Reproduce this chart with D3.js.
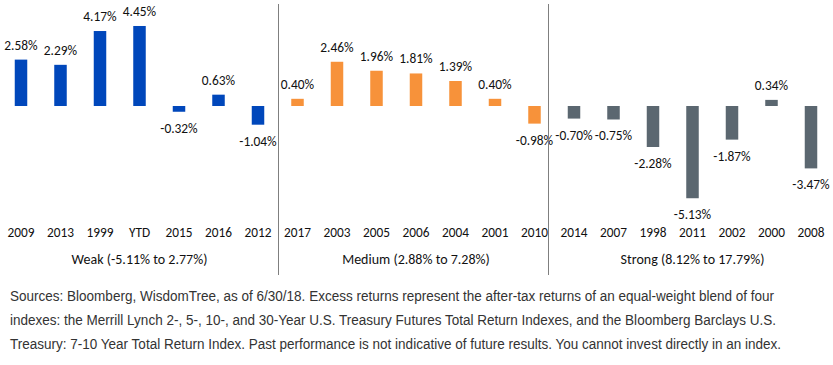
<!DOCTYPE html>
<html lang="en">
<head>
  <meta charset="UTF-8" />
  <title>Excess returns by growth regime</title>
  <script src="https://d3js.org/d3.v7.min.js"></script>
  <style>
    body {
      margin: 0;
      background: #fff;
    }
    svg {
      display: block;
    }
    .val, .yr, .grp {
      font-family: Carlito, Calibri, Lato, sans-serif;
      fill: #111;
    }
    .note {
      font-family: 'Liberation Sans Narrow', 'Arial Narrow', 'Liberation Sans', Arial, sans-serif;
      font-size: 14px;
      fill: #333;
    }
  </style>
</head>
<body>
  <svg width="833" height="365"></svg>
  <script>
    // data
    const groups = ["Weak (-5.11% to 2.77%)", "Medium (2.88% to 7.28%)", "Strong (8.12% to 17.79%)"];
    const weakYears = ["2009", "2013", "1999", "YTD", "2015", "2016", "2012"];
    const weakValues = [2.58, 2.29, 4.17, 4.45, -0.32, 0.63, -1.04];
    const mediumYears = ["2017", "2003", "2005", "2006", "2004", "2001", "2010"];
    const mediumValues = [0.40, 2.46, 1.96, 1.81, 1.39, 0.40, -0.98];
    const strongYears = ["2014", "2007", "1998", "2011", "2002", "2000", "2008"];
    const strongValues = [-0.70, -0.75, -2.28, -5.13, -1.87, 0.34, -3.47];
    const groupColors = ["#0047bb", "#f7923a", "#5b6770"];

    const notes = [
      "Sources: Bloomberg, WisdomTree, as of 6/30/18. Excess returns represent the after-tax returns of an equal-weight blend of four",
      "indexes: the Merrill Lynch 2-, 5-, 10-, and 30-Year U.S. Treasury Futures Total Return Indexes, and the Bloomberg Barclays U.S.",
      "Treasury: 7-10 Year Total Return Index. Past performance is not indicative of future results. You cannot invest directly in an index."
    ];
    const noteWidths = [764, 766, 771];

    const series = [
      { name: groups[0], years: weakYears, values: weakValues, color: groupColors[0] },
      { name: groups[1], years: mediumYears, values: mediumValues, color: groupColors[1] },
      { name: groups[2], years: strongYears, values: strongValues, color: groupColors[2] }
    ];

    const data = [];
    series.forEach((s, gi) => {
      s.years.forEach((yr, i) => {
        data.push({ key: gi + "-" + yr, year: yr, value: s.values[i], color: s.color, group: gi });
      });
    });

    const svg = d3.select("svg");

    const x = d3.scalePoint()
      .domain(data.map(d => d.key))
      .range([1.25, 830.75])
      .padding(0.5);

    const zeroY = 106, pxPerPct = 17.98;
    const y = d3.scaleLinear()
      .domain([-6, 5])
      .range([zeroY + 6 * pxPerPct, zeroY - 5 * pxPerPct]);

    const barW = 12.5;

    svg.selectAll("rect.bar")
      .data(data)
      .enter()
      .append("rect")
      .attr("class", "bar")
      .attr("x", d => x(d.key) - barW / 2)
      .attr("y", d => y(Math.max(0, d.value)))
      .attr("width", barW)
      .attr("height", d => Math.abs(y(d.value) - y(0)))
      .attr("fill", d => d.color);

    svg.selectAll("text.val")
      .data(data)
      .enter()
      .append("text")
      .attr("class", "val")
      .attr("x", d => x(d.key))
      .attr("y", d => d.value >= 0 ? y(d.value) - 10 : y(d.value) + 21)
      .attr("text-anchor", "middle")
      .style("font-size", "13.4px")
      .text(d => d.value.toFixed(2) + "%");

    // category axis (no line)
    svg.selectAll("text.yr")
      .data(data)
      .enter()
      .append("text")
      .attr("class", "yr")
      .attr("x", d => x(d.key))
      .attr("y", 237)
      .attr("text-anchor", "middle")
      .style("font-size", "13.3px")
      .text(d => d.year);

    svg.selectAll("text.grp")
      .data(series)
      .enter()
      .append("text")
      .attr("class", "grp")
      .attr("x", (s, gi) => {
        const first = x(gi + "-" + s.years[0]);
        const last = x(gi + "-" + s.years[s.years.length - 1]);
        return (first + last) / 2;
      })
      .attr("y", 264)
      .attr("text-anchor", "middle")
      .style("font-size", "14px")
      .text(s => s.name);

    // separators between groups
    const sepShift = [0, -6];
    [1, 2].forEach((gi, k) => {
      const prev = series[gi - 1], cur = series[gi];
      const a = x((gi - 1) + "-" + prev.years[prev.years.length - 1]);
      const b = x(gi + "-" + cur.years[0]);
      const sx = Math.round((a + b) / 2 + sepShift[k]) + 0.5;
      svg.append("line")
        .attr("x1", sx).attr("x2", sx)
        .attr("y1", 4).attr("y2", 275)
        .attr("stroke", "#7f7f7f")
        .attr("stroke-width", 1);
    });

    svg.selectAll("text.note")
      .data(notes)
      .enter()
      .append("text")
      .attr("class", "note")
      .attr("x", 10)
      .attr("y", (d, i) => 301 + i * 24)
      .attr("textLength", (d, i) => noteWidths[i])
      .attr("lengthAdjust", "spacingAndGlyphs")
      .text(d => d);
  </script>
</body>
</html>
